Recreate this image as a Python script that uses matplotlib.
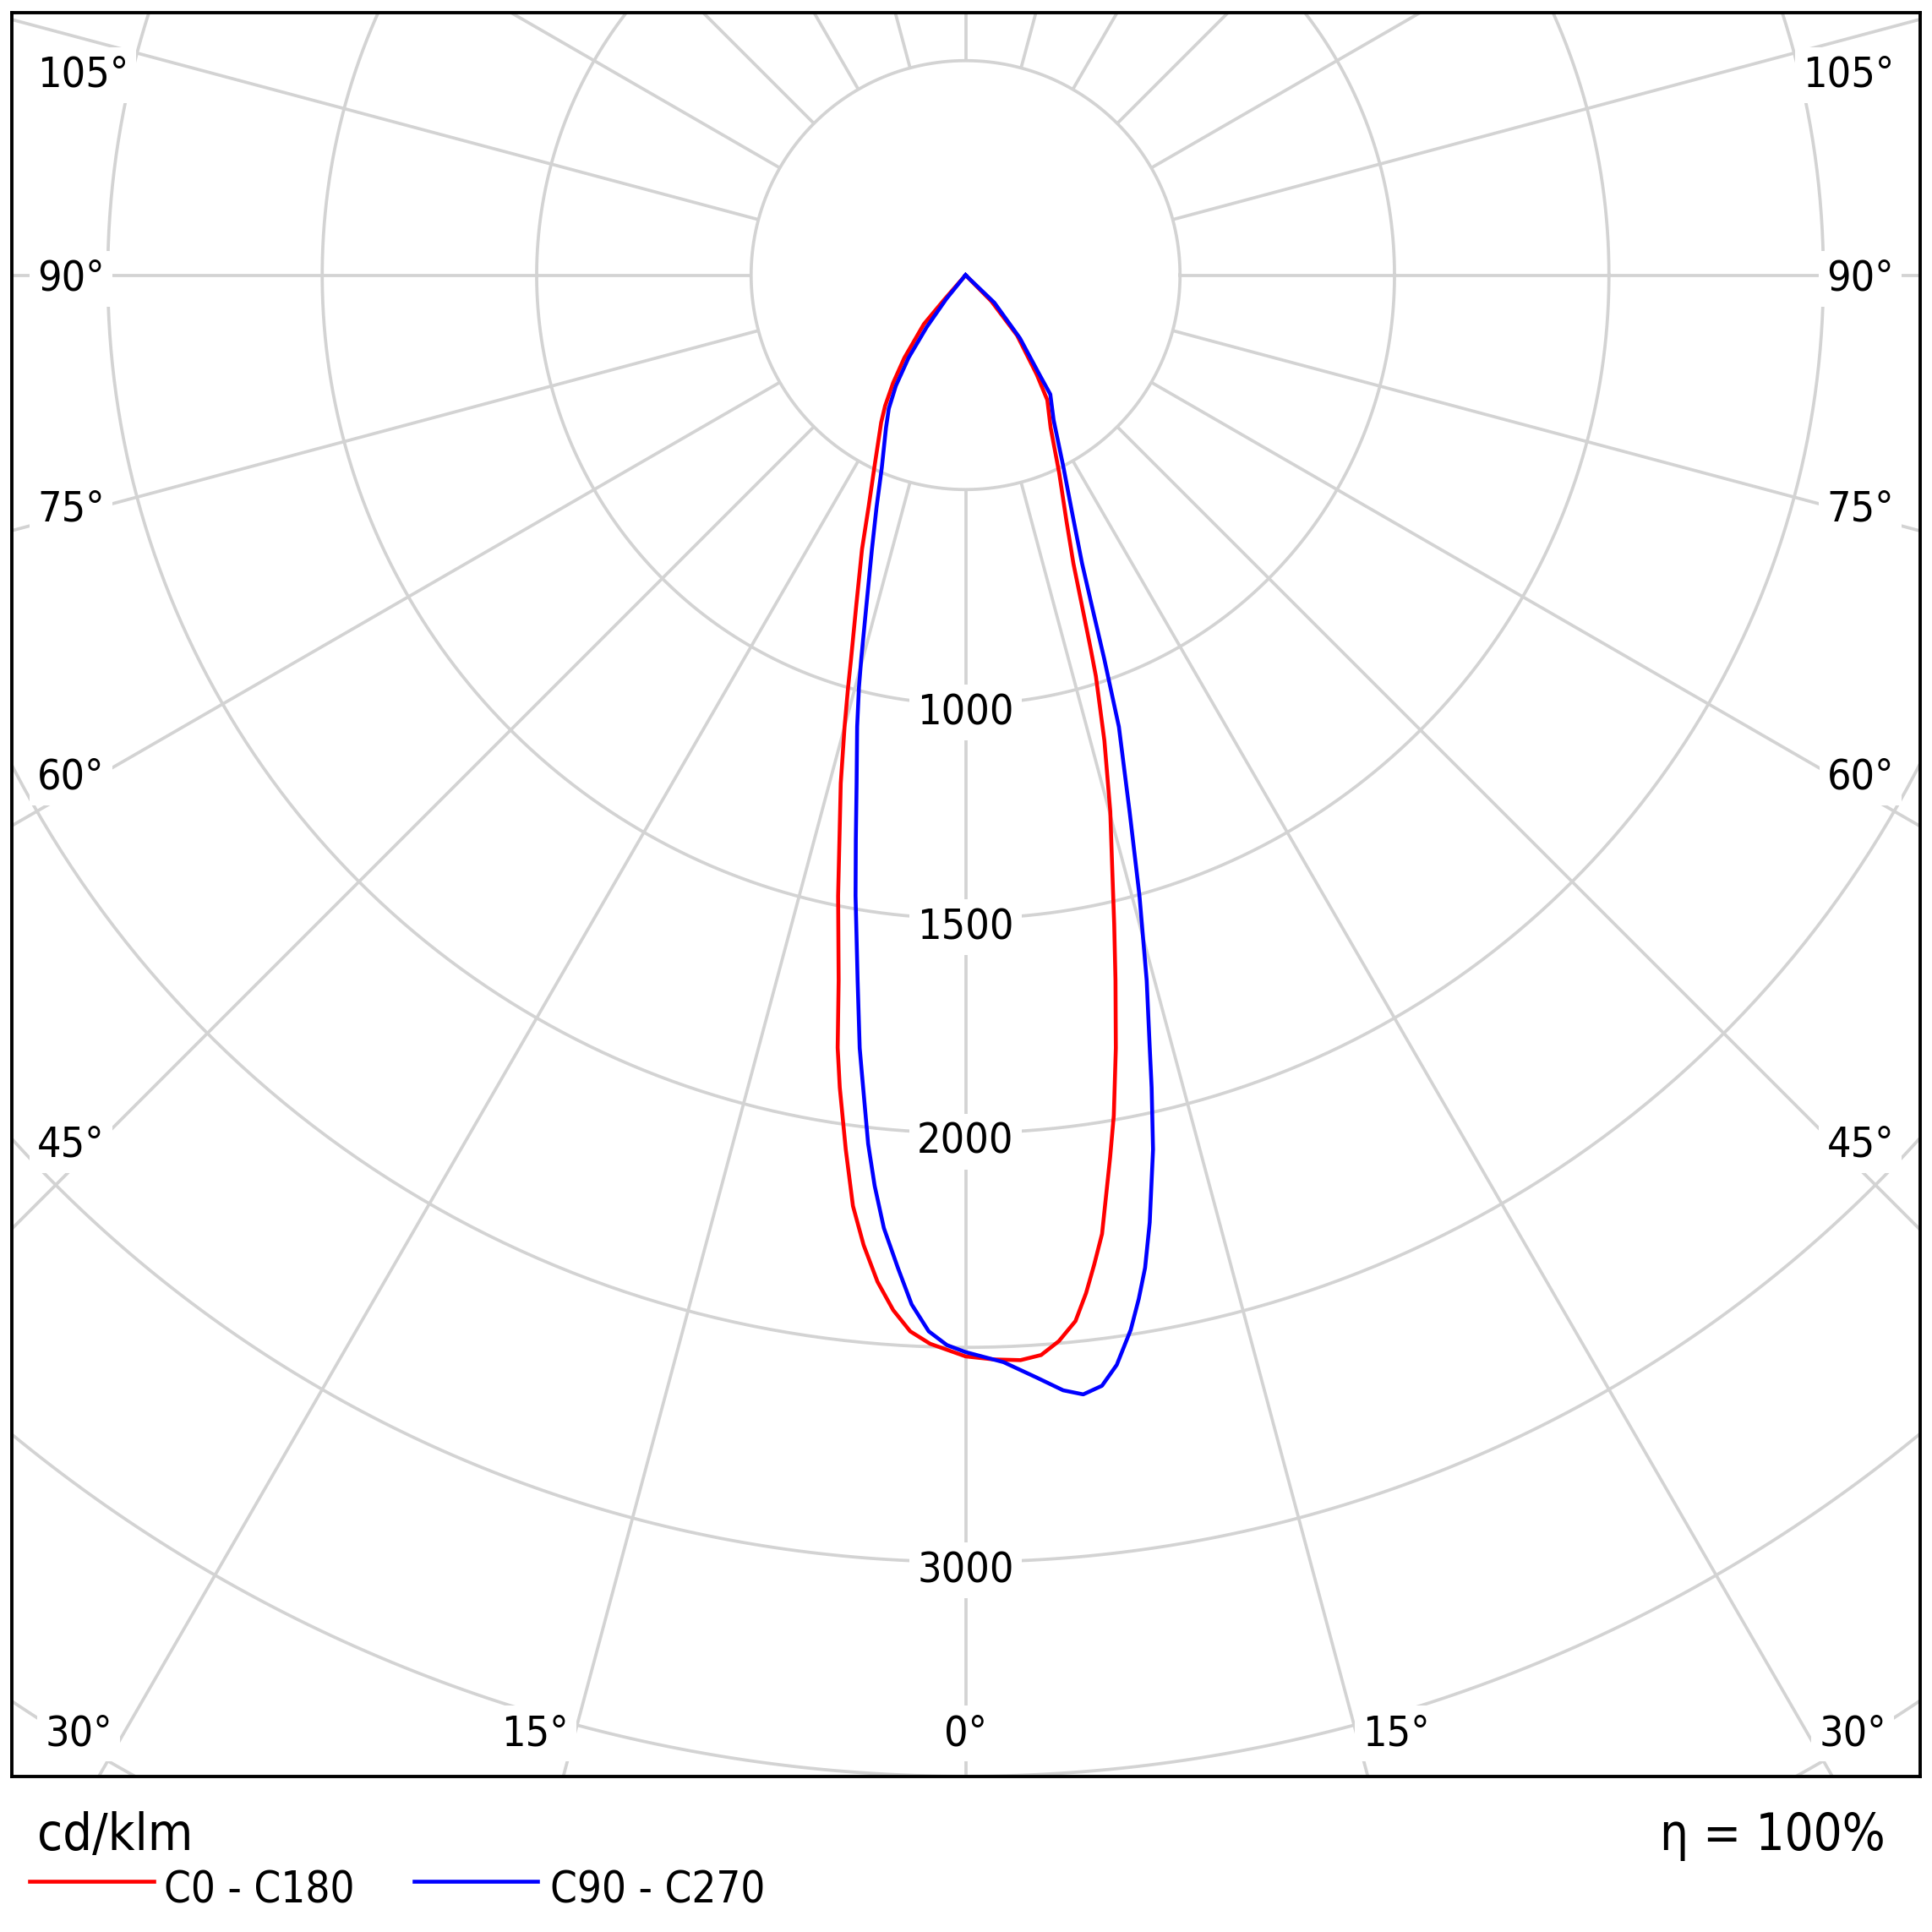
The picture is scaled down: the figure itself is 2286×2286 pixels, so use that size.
import os
import numpy as np
import matplotlib
matplotlib.use('Agg')
import matplotlib.pyplot as plt
from matplotlib.lines import Line2D
from matplotlib import font_manager as fm

# ---------------------------------------------------------------------------
# luminous intensity readings (gamma in degrees, intensity in cd/klm)
# C0 - C180 plane
c0_gamma = [0, 1.5, 2.9, 4.0, 5.0, 6.0, 6.75, 7.4, 8.1, 9.3, 10.0, 11.0, 12.0, 12.9, 13.9,
            15.1, 16.6, 18.0, 18.5, 19.4, 20.5, 22.3, 25.3, 29.1, 33.2, 35.6, 40.5, 44.6, 90]
c0_int = [2521, 2529, 2533, 2524, 2495, 2452, 2390, 2327, 2258, 2085, 1990, 1836, 1681, 1552, 1423,
          1295, 1133, 983, 920, 817, 718, 620, 511, 408, 348, 285, 185, 86, 0]

c180_gamma = [0, 1.9, 3.0, 4.0, 5.0, 6.0, 6.9, 7.8, 8.8, 9.4, 10.2, 11.6, 12.6, 13.8, 15.0,
              15.9, 16.6, 18.3, 20.7, 22.7, 25.6, 29.8, 31.6, 33.9, 36.5, 40.4, 41.0, 90]
c180_int = [2521, 2493, 2466, 2419, 2356, 2274, 2186, 2058, 1917, 1826, 1671, 1478, 1348, 1220, 1090,
            1000, 935, 812, 683, 586, 490, 396, 358, 303, 240, 150, 77, 0]

# C90 - C270 plane
c90_gamma = [0, 2.0, 3.7, 5.0, 6.0, 7.0, 7.9, 8.9, 9.6, 10.25, 11.0, 12.1, 12.9, 13.4, 14.4,
             15.65, 17.0, 18.75, 19.86, 20.9, 22.0, 24.0, 26.95, 31.3, 35.4, 36.6, 40.75, 46.2, 90]
c90_int = [2511, 2536, 2576, 2610, 2624, 2609, 2565, 2489, 2421, 2352, 2250, 2085, 1943, 1853, 1698,
           1503, 1308, 1112, 952, 825, 725, 614, 504, 395, 341, 289, 194, 93, 0]

c270_gamma = [0, 1.0, 2.0, 3.0, 3.9, 4.9, 5.7, 6.4, 7.4, 7.8, 8.7, 10.05, 11.0, 12.1, 13.5,
              14.5, 15.2, 16.7, 18.85, 21.0, 23.5, 27.5, 29.9, 32.2, 34.6, 36.8, 39.0, 90]
c270_int = [2511, 2495, 2464, 2403, 2320, 2230, 2134, 2038, 1877, 1819, 1664, 1470, 1341, 1212, 1083,
            993, 928, 805, 676, 579, 490, 402, 359, 305, 234, 151, 71, 0]

ring_values = [500, 1000, 1500, 2000, 2500, 3000, 3500, 4000, 4500]
ring_labels = [1000, 1500, 2000, 3000]
spoke_angles = list(range(0, 360, 15))

side_labels = [105, 90, 75, 60, 45]
bottom_labels = [30, 15, 0, 15, 30]

efficiency = 100
unit_label = 'cd/klm'
legend_names = ['C0 - C180', 'C90 - C270']
# ---------------------------------------------------------------------------

W = 2286
GRID = '#d3d3d3'

# font: a condensed DejaVu if it's there, otherwise normal DejaVu a bit smaller
cond_path = None
for f in fm.fontManager.ttflist:
    if os.path.basename(f.fname) == 'DejaVuSansCondensed.ttf':
        cond_path = f.fname
        break


def fprops(size):
    if cond_path is not None:
        return fm.FontProperties(fname=cond_path, size=size)
    return fm.FontProperties(family='DejaVu Sans', size=size * 0.9)


def fig_xy(px, py):
    return px / W, 1 - py / W


def to_xy(gamma, inten, side):
    g = np.radians(np.asarray(gamma, dtype=float))
    i = np.asarray(inten, dtype=float)
    return side * i * np.sin(g), -i * np.cos(g)


fig = plt.figure(figsize=(22.86, 22.86), dpi=100)

# frame in pixels: left 14, top 15, right 2272, bottom 2102 ; centre (1142.5, 325.5)
scale = 0.5075  # px per cd/klm
cx, cy = 1142.5, 325.5
left, top, right, bottom = 14.2, 15.3, 2271.6, 2102.0
ax = fig.add_axes([left / W, 1 - bottom / W, (right - left) / W, (bottom - top) / W])
ax.set_xlim((left - cx) / scale, (right - cx) / scale)
ax.set_ylim(-(bottom - cy) / scale, (cy - top) / scale)
ax.set_xticks([])
ax.set_yticks([])
for s in ax.spines.values():
    s.set_linewidth(2.8)
    s.set_color('black')
    s.set_zorder(6)

# rings
t = np.linspace(0, 2 * np.pi, 721)
for r in ring_values:
    ax.plot(r * np.cos(t), r * np.sin(t), color=GRID, lw=2.7, zorder=1)

# spokes every 15 deg, starting on the inner ring
for a in spoke_angles:
    th = np.radians(a)
    rr = np.array([ring_values[0], 6000])
    ax.plot(rr * np.sin(th), -rr * np.cos(th), color=GRID, lw=2.7, zorder=1,
            solid_capstyle='butt')

# curves
for ga, ia, gb, ib, col in [(c180_gamma, c180_int, c0_gamma, c0_int, 'red'),
                            (c270_gamma, c270_int, c90_gamma, c90_int, 'blue')]:
    xl, yl = to_xy(ga, ia, -1)
    xr, yr = to_xy(gb, ib, 1)
    x = np.concatenate([xl[::-1], xr])
    y = np.concatenate([yl[::-1], yr])
    ax.plot(x, y, color=col, lw=3.3, zorder=3, solid_joinstyle='round')

box = dict(facecolor='white', edgecolor='none', boxstyle='square,pad=0.18')

# intensity labels on the 0 deg spoke
for v in ring_labels:
    ax.text(0, -v - 48, str(v), ha='center', va='baseline', fontproperties=fprops(36),
            bbox=box, zorder=4)

# angle labels, left / right (digit centre heights in px)
side_y = [84, 325, 598, 915, 1350]
for lab, py in zip(side_labels, side_y):
    xa, ya = fig_xy(44, py + 18.5)
    ax.text(xa, ya, f'{lab}°', ha='left', va='baseline', transform=fig.transFigure,
            fontproperties=fprops(36), bbox=box, zorder=4)
    xa, ya = fig_xy(2 * cx - 44, py + 18.5)
    ax.text(xa, ya, f'{lab}°', ha='right', va='baseline', transform=fig.transFigure,
            fontproperties=fprops(36), bbox=box, zorder=4)

bottom_x = [93, 633, 1142.5, 1652, 2192]
for lab, px in zip(bottom_labels, bottom_x):
    xa, ya = fig_xy(px, 2065)
    ax.text(xa, ya, f'{lab}°', ha='center', va='baseline', transform=fig.transFigure,
            fontproperties=fprops(36), bbox=box, zorder=4)

# footer: unit, efficiency, legend
xa, ya = fig_xy(44, 2189)
fig.text(xa, ya, unit_label, ha='left', va='baseline', fontproperties=fprops(44))
xa, ya = fig_xy(2231, 2189)
fig.text(xa, ya, f'η = {efficiency}%', ha='right', va='baseline', fontproperties=fprops(43))

leg = [(35, 182, 194.5, 'red'), (490, 636.5, 650.5, 'blue')]
for (x0, x1, xt, col), name in zip(leg, legend_names):
    a0, b0 = fig_xy(x0, 2226)
    a1, _ = fig_xy(x1, 2226)
    fig.add_artist(Line2D([a0, a1], [b0, b0], color=col, lw=3.3, transform=fig.transFigure))
    xa, ya = fig_xy(xt, 2252)
    fig.text(xa, ya, name, ha='left', va='baseline', fontproperties=fprops(36.5))

fig.savefig('out.png', dpi=100, facecolor='white')
